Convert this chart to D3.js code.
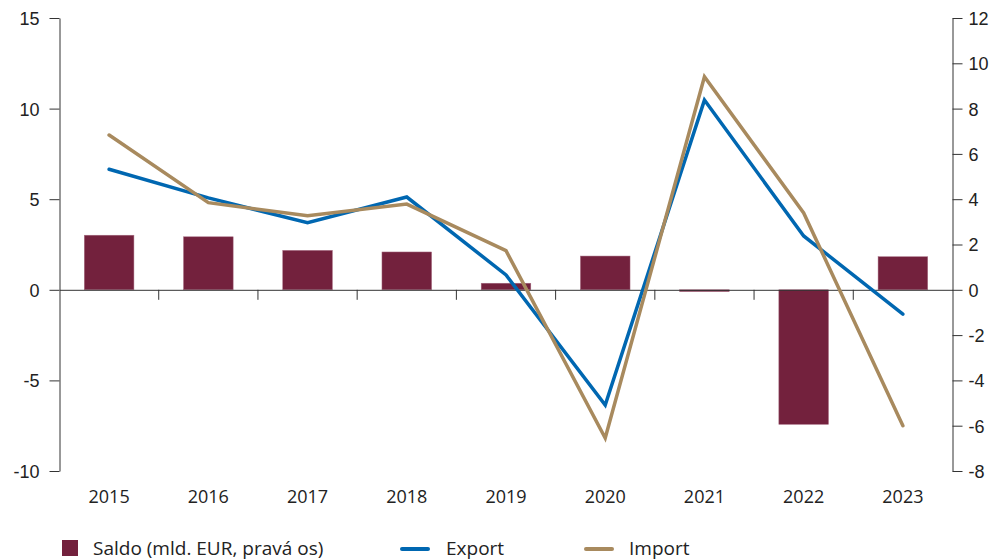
<!DOCTYPE html>
<html lang="cs">
<head>
<meta charset="UTF-8">
<title>Export, import a saldo</title>
<script src="https://cdn.jsdelivr.net/npm/d3@7"></script>
<style>
  body { margin: 0; background: #fff; }
  svg { display: block; font-family: "Open Sans", "Noto Sans", sans-serif; }
  .axis text { font-size: 18px; fill: #222; }
  .axis path, .axis line { stroke: #333; stroke-width: 1; }
  .legend text { font-size: 19px; fill: #222; }
</style>
</head>
<body>
<svg></svg>
<script>
  const years = ['2015', '2016', '2017', '2018', '2019', '2020', '2021', '2022', '2023'];
  const saldo = [2.41, 2.34, 1.74, 1.67, 0.29, 1.49, -0.08, -5.94, 1.46];
  const exportVals = [6.65, 5.07, 3.70, 5.12, 0.82, -6.36, 10.47, 2.97, -1.34];
  const importVals = [8.54, 4.81, 4.09, 4.73, 2.16, -8.18, 11.76, 4.24, -7.50];
  const leftTicks = [-10, -5, 0, 5, 10, 15];
  const rightTicks = [-8, -6, -4, -2, 0, 2, 4, 6, 8, 10, 12];

  const W = 996, H = 560;
  const plotL = 59.5, plotR = 952.5, plotT = 18, plotB = 471;

  const svg = d3.select('svg').attr('width', W).attr('height', H);

  const x = d3.scaleBand().domain(years).range([plotL, plotR]).paddingInner(0.5).paddingOuter(0.25);
  const xBand = d3.scaleBand().domain(years).range([plotL, plotR]);
  const yL = d3.scaleLinear().domain([-10, 15]).range([plotB, plotT]);
  const yR = d3.scaleLinear().domain([-8, 12]).range([plotB, plotT]);
  const fmt = d => String(d);

  // bars (right axis)
  svg.append('g').selectAll('rect')
    .data(years)
    .join('rect')
    .attr('x', d => x(d))
    .attr('width', x.bandwidth())
    .attr('y', (d, i) => yR(Math.max(0, saldo[i])))
    .attr('height', (d, i) => Math.abs(yR(saldo[i]) - yR(0)))
    .attr('fill', '#73213D')
    .attr('stroke', '#a56b80')
    .attr('stroke-width', 0.5);

  // zero line with category ticks
  const xAxis = svg.append('g')
    .attr('class', 'axis')
    .attr('transform', `translate(0,${yL(0)})`)
    .call(d3.axisBottom(xBand).tickValues([]).tickSize(0).tickSizeOuter(0));
  xAxis.selectAll('.sep')
    .data(years.slice(1))
    .join('line')
    .attr('x1', d => xBand(d)).attr('x2', d => xBand(d))
    .attr('y1', 0).attr('y2', 10)
    .attr('stroke', '#444');

  // x labels
  svg.append('g').attr('class', 'axis').selectAll('text')
    .data(years)
    .join('text')
    .attr('x', d => xBand(d) + xBand.bandwidth() / 2)
    .attr('y', 503)
    .attr('text-anchor', 'middle')
    .text(d => d);

  // lines
  const line = d3.line().x((d, i) => xBand(years[i]) + xBand.bandwidth() / 2).y(d => yL(d));
  svg.append('path').datum(exportVals)
    .attr('d', line).attr('fill', 'none')
    .attr('stroke', '#0067B1').attr('stroke-width', 3.5)
    .attr('stroke-linecap', 'round').attr('stroke-linejoin', 'miter');
  svg.append('path').datum(importVals)
    .attr('d', line).attr('fill', 'none')
    .attr('stroke', '#A88A5E').attr('stroke-width', 3.5)
    .attr('stroke-linecap', 'round').attr('stroke-linejoin', 'miter');

  // axes
  svg.append('g').attr('class', 'axis')
    .attr('transform', `translate(${plotL},0)`)
    .call(d3.axisLeft(yL).tickValues(leftTicks).tickFormat(fmt).tickSize(10).tickSizeOuter(0).tickPadding(10))
    .call(g => g.selectAll('text').attr('dy', '0.36em'));
  svg.append('g').attr('class', 'axis')
    .attr('transform', `translate(${plotR},0)`)
    .call(d3.axisRight(yR).tickValues(rightTicks).tickFormat(fmt).tickSize(10).tickSizeOuter(0).tickPadding(6))
    .call(g => g.selectAll('text').attr('dy', '0.36em'));

  // legend
  const lg = svg.append('g').attr('class', 'legend');
  lg.append('rect').attr('x', 62).attr('y', 540).attr('width', 16).attr('height', 16).attr('fill', '#73213D');
  lg.append('text').attr('x', 93).attr('y', 555).text('Saldo (mld. EUR, pravá os)');
  lg.append('line').attr('x1', 402).attr('x2', 428).attr('y1', 549).attr('y2', 549)
    .attr('stroke', '#0067B1').attr('stroke-width', 4).attr('stroke-linecap', 'round');
  lg.append('text').attr('x', 446).attr('y', 555).text('Export');
  lg.append('line').attr('x1', 586).attr('x2', 612).attr('y1', 549).attr('y2', 549)
    .attr('stroke', '#A88A5E').attr('stroke-width', 4).attr('stroke-linecap', 'round');
  lg.append('text').attr('x', 629).attr('y', 555).text('Import');
</script>
</body>
</html>
